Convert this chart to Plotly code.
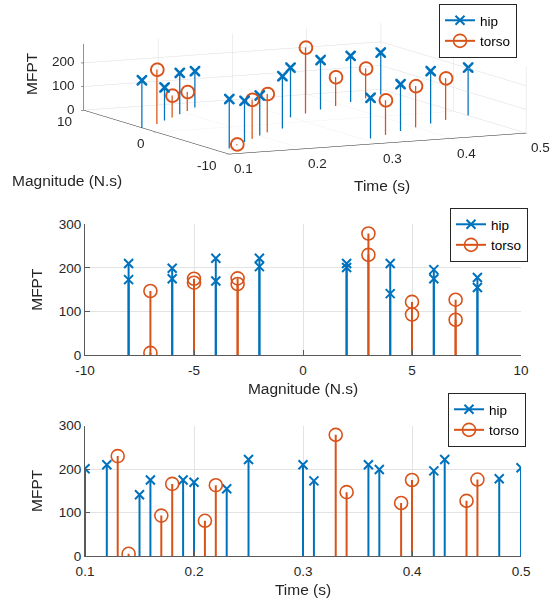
import plotly.graph_objects as go

# ---- data ----
hip_time = [0.10, 0.12, 0.15, 0.16, 0.19, 0.20, 0.23, 0.25,
            0.30, 0.31, 0.36, 0.37, 0.42, 0.43, 0.48, 0.50]
hip_mag = [2, -8, 4, -6, 6, -4, 8, -2,
           2, -8, 4, -6, 6, -4, 8, -2]
hip_mfpt = [201, 210, 141, 175, 175, 170, 155, 222,
            210, 173, 210, 199, 196, 222, 178, 203]

torso_time = [0.13, 0.14, 0.17, 0.18, 0.21, 0.22,
              0.33, 0.34, 0.39, 0.40, 0.45, 0.46]
torso_mag = [3, -7, 5, -5, 7, -3,
             3, -7, 5, -5, 7, -3]
torso_mfpt = [230, 5, 93, 166, 81, 163,
              279, 147, 122, 175, 127, 176]

mag_ticks = [-10, -5, 0, 5, 10]
mag_ticks3d = [-10, 0, 10]
time_ticks = [0.1, 0.2, 0.3, 0.4, 0.5]
mfpt_ticks = [0, 100, 200, 300]
mfpt_ticks3d = [0, 100, 200]

BLUE = "#0072BD"
ORANGE = "#D95319"
FONT = "Liberation Sans, Arial, sans-serif"
TXT = "#262626"


def lab(v):
    return ("%g" % v).replace("\u2212", "-")


def stems(xs, ys):
    sx, sy = [], []
    for x, y in zip(xs, ys):
        sx += [x, x, None]
        sy += [0, y, None]
    return sx, sy


def stems3(xs, ys, zs):
    sx, sy, sz = [], [], []
    for x, y, z in zip(xs, ys, zs):
        sx += [x, x, None]
        sy += [y, y, None]
        sz += [0, z, None]
    return sx, sy, sz


fig = go.Figure()

hip_marker = dict(symbol="x-thin", size=9, color=BLUE, line=dict(color=BLUE, width=2))
torso_marker = dict(symbol="circle-open", size=13, color=ORANGE, line=dict(color=ORANGE, width=1.6))

# ---- 3D panel ----
for (t, m, v, col, sym, sz) in [
    (hip_time, hip_mag, hip_mfpt, BLUE, "x", 2.4),
    (torso_time, torso_mag, torso_mfpt, ORANGE, "circle-open", 8),
]:
    sx, sy, sz3 = stems3(t, m, v)
    fig.add_trace(go.Scatter3d(x=sx, y=sy, z=sz3, mode="lines",
                               line=dict(color=col, width=2.5),
                               showlegend=False, hoverinfo="skip", scene="scene"))
    fig.add_trace(go.Scatter3d(x=t, y=m, z=v, mode="markers",
                               marker=dict(symbol=sym, size=sz, color=col,
                                           line=dict(color=col, width=2)),
                               showlegend=False, hoverinfo="skip", scene="scene"))

# ---- 2D panels ----
panels = [
    ("x", "y", hip_mag, torso_mag),
    ("x2", "y2", hip_time, torso_time),
]
for xa, ya, hx, tx in panels:
    sx, sy = stems(hx, hip_mfpt)
    fig.add_trace(go.Scatter(x=sx, y=sy, mode="lines", line=dict(color=BLUE, width=2),
                             xaxis=xa, yaxis=ya, showlegend=False, hoverinfo="skip"))
    fig.add_trace(go.Scatter(x=hx, y=hip_mfpt, mode="markers", marker=hip_marker,
                             xaxis=xa, yaxis=ya, showlegend=False, hoverinfo="skip"))
    sx, sy = stems(tx, torso_mfpt)
    fig.add_trace(go.Scatter(x=sx, y=sy, mode="lines", line=dict(color=ORANGE, width=2),
                             xaxis=xa, yaxis=ya, showlegend=False, hoverinfo="skip"))
    fig.add_trace(go.Scatter(x=tx, y=torso_mfpt, mode="markers", marker=torso_marker,
                             xaxis=xa, yaxis=ya, showlegend=False, hoverinfo="skip"))

# legend entries (one legend per panel)
for lg in ["legend3", "legend", "legend2"]:
    fig.add_trace(go.Scatter(x=[None], y=[None], mode="lines+markers", name="hip",
                             line=dict(color=BLUE, width=2), marker=hip_marker,
                             xaxis="x", yaxis="y", legend=lg, hoverinfo="skip"))
    fig.add_trace(go.Scatter(x=[None], y=[None], mode="lines+markers", name="torso",
                             line=dict(color=ORANGE, width=2), marker=torso_marker,
                             xaxis="x", yaxis="y", legend=lg, hoverinfo="skip"))

axis2d = dict(showgrid=True, gridcolor="#e3e3e3", gridwidth=1, zeroline=False,
              showline=True, linecolor="#5a5a5a", linewidth=1, automargin=False,
              ticks="inside", ticklen=5, tickcolor="#5a5a5a", tickwidth=1,
              tickfont=dict(size=13.5, color=TXT, family=FONT))

X0, X1 = 0.1518, 0.9304
tfont = dict(size=15.5, color=TXT, family=FONT)
fig.update_layout(
    xaxis=dict(axis2d, domain=[X0, X1], range=[-10, 10], tickvals=mag_ticks,
               ticktext=[lab(v) for v in mag_ticks], anchor="y", ticklabelstandoff=3,
               title=dict(text="Magnitude (N.s)", font=tfont, standoff=5)),
    yaxis=dict(axis2d, domain=[0.4073, 0.6255], range=[0, 300], tickvals=mfpt_ticks, anchor="x",
               title=dict(text="MFPT", font=tfont, standoff=12)),
    xaxis2=dict(axis2d, domain=[X0, X1], range=[0.1, 0.5], tickvals=time_ticks, anchor="y2",
                ticklabelstandoff=3,
                title=dict(text="Time (s)", font=tfont, standoff=5)),
    yaxis2=dict(axis2d, domain=[0.0718, 0.2893], range=[0, 300], tickvals=mfpt_ticks, anchor="x2",
                title=dict(text="MFPT", font=tfont, standoff=12)),
)

# 3D tick labels as scene annotations (placed through the scene's own data scales)
tick_font = dict(size=13.5, color=TXT, family=FONT)
scene_ann = []
for t in time_ticks:
    scene_ann.append(dict(x=t, y=-10, z=0, text=lab(t), showarrow=False, font=tick_font,
                          xanchor="left", yanchor="top", xshift=3, yshift=-5))
for m in mag_ticks3d:
    scene_ann.append(dict(x=0.1, y=m, z=0, text=lab(m), showarrow=False, font=tick_font,
                          xanchor="right", yanchor="top", xshift=-10, yshift=-2))
for zv in mfpt_ticks3d:
    scene_ann.append(dict(x=0.1, y=10, z=zv, text=lab(zv), showarrow=False, font=tick_font,
                          xanchor="right", yanchor="middle", xshift=-7, yshift=1))

ax3 = dict(showbackground=False, gridcolor="#dcdcdc", gridwidth=1, zeroline=False,
           showline=True, linecolor="#262626", linewidth=1, showspikes=False,
           ticks="outside", ticklen=3, tickcolor="#262626", showticklabels=False,
           title=dict(text=""))
fig.update_layout(
    scene=dict(
        domain=dict(x=[0.09, 1.0], y=[0.704, 1.0]),
        xaxis=dict(ax3, range=[0.1, 0.5], tickvals=time_ticks),
        yaxis=dict(ax3, range=[-10, 10], tickvals=mag_ticks3d),
        zaxis=dict(ax3, range=[0, 280], tickvals=mfpt_ticks3d),
        aspectmode="manual",
        aspectratio=dict(x=3.73, y=3.77, z=0.757),
        camera=dict(projection=dict(type="orthographic"),
                    eye=dict(x=-2.582, y=-5.345, z=0.877),
                    up=dict(x=0, y=0, z=1), center=dict(x=0, y=0, z=0)),
        bgcolor="white",
        annotations=scene_ann,
    )
)

# 3D axis titles
fig.update_layout(annotations=[
    dict(text="MFPT", x=32 / 560, y=1 - 74 / 599, xref="paper", yref="paper",
         showarrow=False, textangle=-90, font=tfont, xanchor="center", yanchor="middle"),
    dict(text="Magnitude (N.s)", x=67 / 560, y=1 - 180 / 599, xref="paper", yref="paper",
         showarrow=False, font=tfont, xanchor="center", yanchor="middle"),
    dict(text="Time (s)", x=382 / 560, y=1 - 185 / 599, xref="paper", yref="paper",
         showarrow=False, font=tfont, xanchor="center", yanchor="middle"),
])

leg = dict(bgcolor="white", bordercolor="#262626", borderwidth=1,
           font=dict(size=13.5, color="#000", family=FONT), xanchor="right", yanchor="middle",
           tracegroupgap=0, itemwidth=30)
fig.update_layout(
    legend=dict(leg, x=528 / 560, y=1 - 235 / 599),
    legend2=dict(leg, x=526 / 560, y=1 - 420 / 599),
    legend3=dict(leg, x=517 / 560, y=1 - 31 / 599),
)

fig.update_layout(width=560, height=599, margin=dict(l=0, r=0, t=0, b=0),
                  paper_bgcolor="white", plot_bgcolor="white", hovermode=False,
                  font=dict(family=FONT, color=TXT))

fig.write_html("out.html")
